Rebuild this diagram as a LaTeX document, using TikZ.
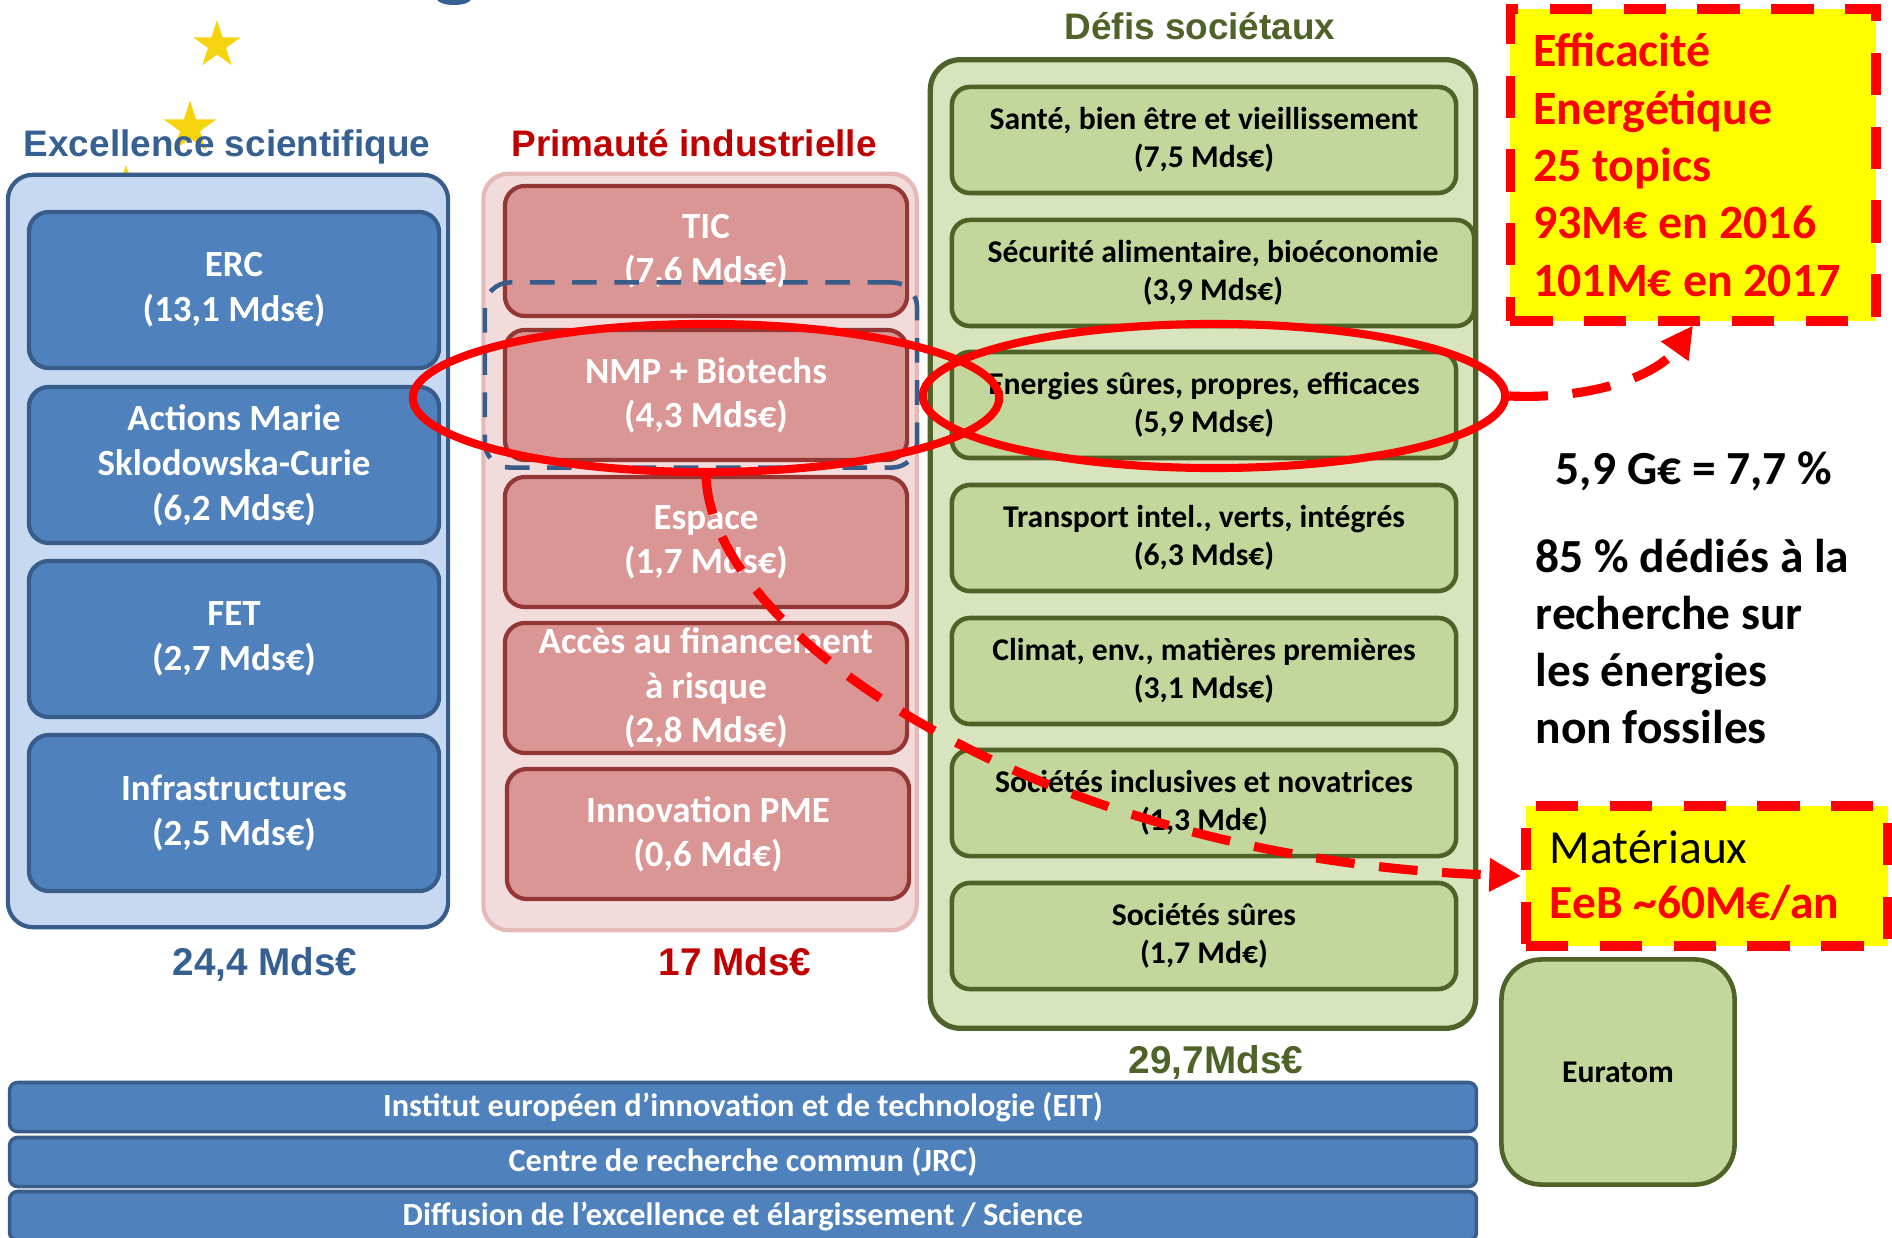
\documentclass[tikz,border=0pt]{standalone}
\usepackage{fontspec}
\setmainfont{Carlito}
\newfontfamily\arialfont{Liberation Sans}
\usepackage{tikz}
\usetikzlibrary{shapes.geometric,arrows.meta}

\definecolor{scidark}{HTML}{385D8A}
\definecolor{scimid}{HTML}{4F81BD}
\definecolor{scilight}{HTML}{C6D9F1}
\definecolor{scititle}{HTML}{376092}
\definecolor{inddark}{HTML}{943634}
\definecolor{indmid}{HTML}{D99694}
\definecolor{indlight}{HTML}{F2DCDB}
\definecolor{indedge}{HTML}{E6B9B8}
\definecolor{indtitle}{HTML}{C00000}
\definecolor{socdark}{HTML}{4F6228}
\definecolor{socmid}{HTML}{C3D69B}
\definecolor{soclight}{HTML}{D7E4BD}
\definecolor{hired}{HTML}{FF0000}
\definecolor{hiyellow}{HTML}{FFFF00}
\definecolor{staryellow}{HTML}{F5D40F}

\tikzset{
  colframe/.style={rounded corners=0.25cm, line width=1.2pt},
  scibox/.style={rounded corners=0.2cm, draw=scidark, fill=scimid, line width=1.2pt, text=white, align=center, inner ysep=1pt, font=\bfseries\fontsize{10.5}{12.8}\selectfont, minimum width=4.10cm, minimum height=1.56cm},
  indbox/.style={rounded corners=0.2cm, draw=inddark, fill=indmid, line width=1.2pt, text=white, align=center, inner ysep=1pt, font=\bfseries\fontsize{10.5}{12.6}\selectfont, minimum width=4.02cm, minimum height=1.30cm},
  socbox/.style={rounded corners=0.18cm, draw=socdark, fill=socmid, line width=1.3pt, align=center, inner ysep=1pt, font=\bfseries\fontsize{9}{10.8}\selectfont, minimum width=5.04cm, minimum height=1.06cm},
  barbox/.style={rounded corners=0.08cm, draw=scidark, fill=scimid, line width=1pt, text=white, inner ysep=1pt, font=\bfseries\fontsize{9.2}{11}\selectfont, minimum width=14.66cm, minimum height=0.49cm},
  coltitle/.style={font=\arialfont\bfseries\fontsize{10.5}{12}\selectfont, anchor=base},
  coltotal/.style={font=\arialfont\bfseries\fontsize{11}{13}\selectfont, anchor=base},
  redframe/.style={draw=hired, line width=2.8pt, dash pattern=on 12pt off 9pt, fill=hiyellow},
  redring/.style={ellipse, draw=hired, line width=2.3pt, inner sep=0pt},
  redlink/.style={draw=hired, line width=2.6pt, dash pattern=on 11pt off 7pt, -{Triangle[length=9pt,width=9pt]}},
  eustar/.style={star, star points=5, star point ratio=2.618, fill=staryellow, inner sep=0pt},
  note/.style={font=\bfseries\fontsize{13.5}{16.3}\selectfont},
}

\begin{document}
\begin{tikzpicture}[x=0.01cm, y=-0.01cm]
        \useasboundingbox (0,0) rectangle (1892,1237);

        % Stars and title remnant
        \node[ellipse, fill=scititle, minimum width=0.34cm, minimum height=0.12cm, inner sep=0pt] (titletail) at (454,-1) {};
        \node[eustar, minimum size=0.5cm] (star1) at (217,45) {};
        \node[eustar, minimum size=0.55cm] (star2) at (190,128) {};
        \node[eustar, minimum size=0.5cm] (star3) at (126,190) {};

        % Excellence scientifique
        \node[colframe, draw=scidark, fill=scilight, minimum width=4.40cm, minimum height=7.52cm] (sciframe) at (228,551) {};
        \node[coltitle, text=scititle] (scihead) at (227,157) {Excellence scientifique};
        \node[scibox] (erc) at (234,290) {ERC\\(13,1 Mds€)};
        \node[scibox] (msca) at (234,465) {Actions Marie\\Sklodowska-Curie\\(6,2 Mds€)};
        \node[scibox] (fet) at (234,639) {FET\\(2,7 Mds€)};
        \node[scibox] (infra) at (234,813) {Infrastructures\\(2,5 Mds€)};
        \node[coltotal, text=scititle] (scitotal) at (265,975) {24,4 Mds€};

        % Primaute industrielle
        \node[colframe, draw=indedge, fill=indlight, minimum width=4.33cm, minimum height=7.56cm] (indframe) at (700,552) {};
        \node[coltitle, text=indtitle] (indhead) at (694,157) {Primauté industrielle};
        \node[indbox] (tic) at (706,251) {TIC\\(7,6 Mds€)};
        \node[indbox] (nmp) at (706,395) {NMP + Biotechs\\(4,3 Mds€)};
        \node[indbox] (espace) at (706,542) {Espace\\(1,7 Mds€)};
        \node[indbox] (acces) at (706,688) {Accès au financement\\à risque\\(2,8 Mds€)};
        \node[indbox] (pme) at (708,834) {Innovation PME\\(0,6 Md€)};
        \node[coltotal, text=indtitle] (indtotal) at (735,975) {17 Mds€};
        \node[draw=scidark, line width=1.3pt, dash pattern=on 7pt off 5pt, rounded corners=0.25cm, minimum width=4.32cm, minimum height=1.85cm] (nmpframe) at (701,375) {};

        % Defis societaux
        \node[colframe, draw=socdark, fill=soclight, line width=1.5pt, rounded corners=0.3cm, minimum width=5.45cm, minimum height=9.68cm] (socframe) at (1203,544) {};
        \node[coltitle, text=socdark] (sochead) at (1200,40) {Défis sociétaux};
        \node[socbox] (sante) at (1204,140) {Santé, bien être et vieillissement\\(7,5 Mds€)};
        \node[socbox, minimum width=5.22cm] (secu) at (1213,273) {Sécurité alimentaire, bioéconomie\\(3,9 Mds€)};
        \node[socbox] (energie) at (1204,405) {Energies sûres, propres, efficaces\\(5,9 Mds€)};
        \node[socbox] (transport) at (1204,538) {Transport intel., verts, intégrés\\(6,3 Mds€)};
        \node[socbox] (climat) at (1204,671) {Climat, env., matières premières\\(3,1 Mds€)};
        \node[socbox] (inclusives) at (1204,803) {Sociétés inclusives et novatrices\\(1,3 Md€)};
        \node[socbox] (sures) at (1204,936) {Sociétés sûres\\(1,7 Md€)};
        \node[coltotal, text=socdark] (soctotal) at (1216,1073) {29,7Mds€};

        % Bottom bars
        \node[barbox] (eit) at (743,1107) {Institut européen d’innovation et de technologie (EIT)};
        \node[barbox] (jrc) at (743,1162) {Centre de recherche commun (JRC)};
        \node[barbox] (diff) at (743,1216) {Diffusion de l’excellence et élargissement / Science};

        % Euratom
        \node[socbox, rounded corners=0.4cm, minimum width=2.33cm, minimum height=2.25cm] (euratom) at (1618,1072) {Euratom};

        % Energy notes
        \node[redframe, minimum width=3.65cm, minimum height=3.11cm, text width=3.19cm, inner xsep=0.23cm, align=flush left, text=hired, font=\bfseries\fontsize{13.6}{16.3}\selectfont] (effbox) at (1693,165) {Efficacité\\Energétique\\25 topics\\93M€ en 2016\\101M€ en 2017};
        \node[redframe, minimum width=3.62cm, minimum height=1.40cm, text width=3.14cm, inner xsep=0.24cm, align=flush left, font=\fontsize{13.5}{15.6}\selectfont] (matbox) at (1707,876) {Matériaux\\{\bfseries\color{hired}EeB \textasciitilde60M€/an}};
        \node[note, anchor=base] (share) at (1694,485) {5,9 G€ = 7,7 \%};
        \node[note, anchor=base west, text width=3.4cm, align=flush left, inner sep=0pt] (nonfossil) at (1535,572) {85 \% dédiés à la\\recherche sur\\les énergies\\non fossiles};

        % Highlights
        \node[redring, minimum width=5.86cm, minimum height=1.48cm] (ringnmp) at (706,398) {};
        \node[redring, minimum width=5.82cm, minimum height=1.44cm] (ringener) at (1214,396) {};
        \draw[redlink] (ringener.east) .. controls (1600,400) and (1660,372) .. (effbox.south);
        \draw[redlink] (ringnmp.south) .. controls (712,640) and (1050,860) .. (matbox.west);
\end{tikzpicture}
\end{document}
